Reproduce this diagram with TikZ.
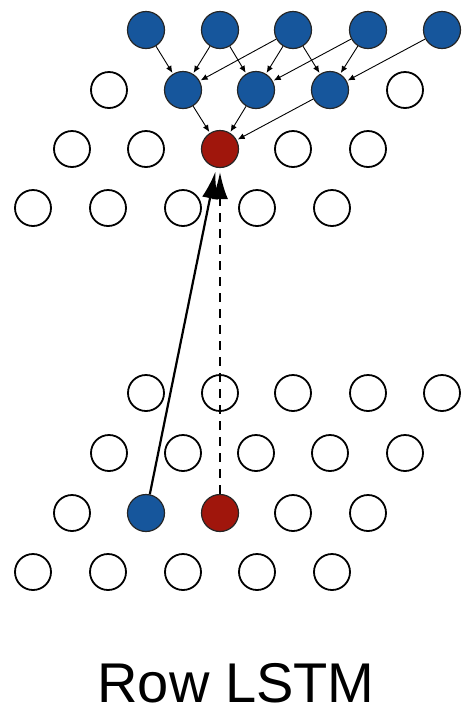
\documentclass[tikz,border=0pt]{standalone}
\usepackage{fontspec}
\setsansfont{Liberation Sans}
\usetikzlibrary{arrows.meta}
\definecolor{ctxblue}{RGB}{22,86,156}
\definecolor{curred}{RGB}{160,22,12}

\begin{document}
\begin{tikzpicture}[>={Latex[length=7pt,width=6pt]}, x=1pt, y=-1pt,
    cell/.style={circle, draw=black, line width=1.8pt, fill=white, minimum size=36pt, inner sep=0pt},
    ctx/.style={circle, draw=black!85, line width=1.2pt, fill=ctxblue, minimum size=37pt, inner sep=0pt},
    cur/.style={circle, draw=black!85, line width=1.2pt, fill=curred, minimum size=37pt, inner sep=0pt},
    dep/.style={draw, ->, line width=0.9pt, shorten >=1pt},
    big/.style={draw, -{Latex[length=27pt,width=16pt]}, line width=2.2pt, shorten >=4pt}]
    \useasboundingbox (0,0) rectangle (464,713);

    % upper grid
    \node [ctx] (u1_1) at (146,30) {};
    \node [ctx] (u1_2) at (220,30) {};
    \node [ctx] (u1_3) at (293,30) {};
    \node [ctx] (u1_4) at (368,30) {};
    \node [ctx] (u1_5) at (442,30) {};

    \node [cell] (u2_1) at (109,90) {};
    \node [ctx] (u2_2) at (183,90) {};
    \node [ctx] (u2_3) at (256,90) {};
    \node [ctx] (u2_4) at (330,90) {};
    \node [cell] (u2_5) at (405,90) {};

    \node [cell] (u3_1) at (72,149) {};
    \node [cell] (u3_2) at (146,149) {};
    \node [cur] (u3_3) at (220,149) {};
    \node [cell] (u3_4) at (293,149) {};
    \node [cell] (u3_5) at (368,149) {};

    \node [cell] (u4_1) at (33,208) {};
    \node [cell] (u4_2) at (108,208) {};
    \node [cell] (u4_3) at (183,208) {};
    \node [cell] (u4_4) at (257,208) {};
    \node [cell] (u4_5) at (332,208) {};

    % lower grid
    \node [cell] (l1_1) at (146,393) {};
    \node [cell] (l1_2) at (220,393) {};
    \node [cell] (l1_3) at (293,393) {};
    \node [cell] (l1_4) at (368,393) {};
    \node [cell] (l1_5) at (442,393) {};

    \node [cell] (l2_1) at (109,453) {};
    \node [cell] (l2_2) at (183,453) {};
    \node [cell] (l2_3) at (256,453) {};
    \node [cell] (l2_4) at (330,453) {};
    \node [cell] (l2_5) at (405,453) {};

    \node [cell] (l3_1) at (72,513) {};
    \node [ctx] (l3_2) at (146,513) {};
    \node [cur] (l3_3) at (220,513) {};
    \node [cell] (l3_4) at (293,513) {};
    \node [cell] (l3_5) at (368,513) {};

    \node [cell] (l4_1) at (33,572) {};
    \node [cell] (l4_2) at (108,572) {};
    \node [cell] (l4_3) at (183,572) {};
    \node [cell] (l4_4) at (257,572) {};
    \node [cell] (l4_5) at (332,572) {};

    \node [anchor=base, inner sep=0pt] (title) at (236,702) {\sffamily\fontsize{56}{60}\selectfont Row LSTM};

    % row dependencies
    \path [dep] (u1_1) edge (u2_2);
    \path [dep] (u1_2) edge (u2_2);
    \path [dep] (u1_3) edge (u2_2);
    \path [dep] (u1_2) edge (u2_3);
    \path [dep] (u1_3) edge (u2_3);
    \path [dep] (u1_4) edge (u2_3);
    \path [dep] (u1_3) edge (u2_4);
    \path [dep] (u1_4) edge (u2_4);
    \path [dep] (u1_5) edge (u2_4);

    \path [dep] (u2_2) edge (u3_3);
    \path [dep] (u2_3) edge (u3_3);
    \path [dep] (u2_4) edge (u3_3);

    \path [big] (l3_2) -- (u3_3);
    \path [big, dash pattern=on 9pt off 7pt] (l3_3) -- (u3_3);

\end{tikzpicture}
\end{document}
